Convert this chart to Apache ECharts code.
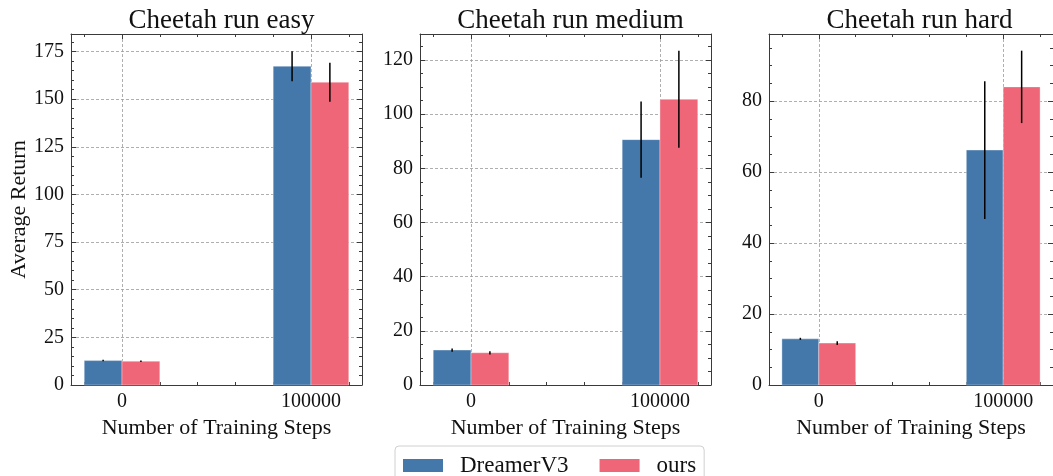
<!DOCTYPE html>
<html>
<head>
<meta charset="utf-8">
<script src="https://cdn.jsdelivr.net/npm/echarts@6/dist/echarts.min.js"></script>
<style>
html,body{margin:0;padding:0;background:#fff;}
#chart{width:1053px;height:476px;}
</style>
</head>
<body>
<div id="chart"></div>
<script>
// ---- data ----
const panelTitles = ['Cheetah run easy', 'Cheetah run medium', 'Cheetah run hard'];
const steps = [0, 100000];
const seriesNames = ['DreamerV3', 'ours'];
const dreamerMean = [[12.8, 167.3], [12.9, 90.6], [13.0, 66.2]];
const dreamerErr  = [[0.4, 7.9], [0.6, 14.1], [0.3, 19.4]];
const oursMean    = [[12.5, 158.9], [11.9, 105.5], [11.8, 84.0]];
const oursErr     = [[0.4, 10.2], [0.6, 17.9], [0.5, 10.2]];
// ---- axes / ticks ----
const xMajorTicks = [0, 100000];
const xMinorTicks = [-20000, 20000, 40000, 60000, 80000, 120000];
const yMajorTicks = [
  [0, 25, 50, 75, 100, 125, 150, 175],
  [0, 20, 40, 60, 80, 100, 120],
  [0, 20, 40, 60, 80]
];
const yMinorStep = [5, 5, 5];
const yMax = [184.2, 129.6, 98.9];
const xMin = -27000, xMax = 127000;

const BLUE = '#4477AA', RED = '#EE6677';
const FONT = 'Liberation Serif';
const AXIS_COLOR = '#3a3a3a';
const gridLeft = [71, 420, 769];
const GRID_TOP = 34, GRID_W = 291, GRID_H = 351;
const BAR_W = 20000;

function minorOf(majors, step, max) {
  const out = [];
  for (let v = step; v <= max; v += step) {
    const r = Math.round(v * 1000) / 1000;
    if (majors.indexOf(r) < 0) out.push(r);
  }
  return out;
}

const grids = [], xAxes = [], yAxes = [], series = [], titles = [];

function tickAxis(base, pos, values, len, showLine) {
  return Object.assign({}, base, {
    position: pos,
    axisLine: { show: showLine, onZero: false, lineStyle: { color: AXIS_COLOR, width: 1 } },
    axisTick: { show: true, inside: true, length: len, customValues: values, lineStyle: { color: AXIS_COLOR, width: 1 } },
    axisLabel: { show: false },
    splitLine: { show: false }
  });
}

for (let i = 0; i < 3; i++) {
  grids.push({ left: gridLeft[i], top: GRID_TOP, width: GRID_W, height: GRID_H, containLabel: false });
  titles.push({
    text: panelTitles[i],
    left: gridLeft[i] + GRID_W / 2, top: 2, textAlign: 'center',
    textStyle: { fontFamily: FONT, fontSize: 27, fontWeight: 'normal', color: '#111' }
  });
  const xb = { type: 'value', gridIndex: i, min: xMin, max: xMax };
  const yb = { type: 'value', gridIndex: i, min: 0, max: yMax[i] };
  const xi = xAxes.length, yi = yAxes.length;
  // main x (bottom)
  xAxes.push(Object.assign({}, xb, {
    position: 'bottom',
    name: 'Number of Training Steps', nameLocation: 'middle', nameGap: 22,
    nameTextStyle: { fontFamily: FONT, fontSize: 22, color: '#111', verticalAlign: 'top' },
    axisLine: { show: true, onZero: false, lineStyle: { color: AXIS_COLOR, width: 1 } },
    axisTick: { show: true, inside: true, length: 5, customValues: xMajorTicks, lineStyle: { color: AXIS_COLOR } },
    axisLabel: { show: true, customValues: xMajorTicks, margin: 7, fontFamily: FONT, fontSize: 20, color: '#111',
      formatter: v => String(v) },
    splitLine: { show: true, lineStyle: { color: '#9a9a9a', width: 0.8, type: [3, 2] } }
  }));
  xAxes.push(tickAxis(xb, 'top', xMajorTicks, 5, true));
  xAxes.push(tickAxis(xb, 'bottom', xMinorTicks, 3, false));
  xAxes.push(tickAxis(xb, 'top', xMinorTicks, 3, false));
  // main y (left)
  const yMinor = minorOf(yMajorTicks[i], yMinorStep[i], yMax[i]);
  yAxes.push(Object.assign({}, yb, {
    position: 'left',
    name: i === 0 ? 'Average Return' : '', nameLocation: 'middle', nameGap: 38, nameRotate: 90,
    nameTextStyle: { fontFamily: FONT, fontSize: 22, color: '#111' },
    axisLine: { show: true, onZero: false, lineStyle: { color: AXIS_COLOR, width: 1 } },
    axisTick: { show: true, inside: true, length: 5, customValues: yMajorTicks[i], lineStyle: { color: AXIS_COLOR } },
    axisLabel: { show: true, customValues: yMajorTicks[i], margin: 7, fontFamily: FONT, fontSize: 20, color: '#111',
      formatter: v => String(v) },
    splitLine: { show: true, lineStyle: { color: '#9a9a9a', width: 0.8, type: [3, 2] } }
  }));
  yAxes.push(tickAxis(yb, 'right', yMajorTicks[i], 5, true));
  yAxes.push(tickAxis(yb, 'left', yMinor, 3, false));
  yAxes.push(tickAxis(yb, 'right', yMinor, 3, false));

  const groups = [
    { name: seriesNames[0], color: BLUE, mean: dreamerMean[i], err: dreamerErr[i], off: -BAR_W },
    { name: seriesNames[1], color: RED, mean: oursMean[i], err: oursErr[i], off: 0 }
  ];
  groups.forEach(g => {
    const data = steps.map((s, k) => [s, g.mean[k], g.err[k]]);
    series.push({
      type: 'custom', name: g.name, xAxisIndex: xi, yAxisIndex: yi,
      itemStyle: { color: g.color },
      data: data,
      clip: false,
      renderItem: function (params, api) {
        const x = api.value(0), y = api.value(1), e = api.value(2);
        const p1 = api.coord([x + g.off, y]);
        const p2 = api.coord([x + g.off + BAR_W, 0]);
        const cx = api.coord([x + g.off + BAR_W / 2, 0])[0];
        const eTop = api.coord([x, y + e])[1];
        const eBot = api.coord([x, y - e])[1];
        return {
          type: 'group',
          children: [
            { type: 'rect', shape: { x: p1[0], y: p1[1], width: p2[0] - p1[0], height: p2[1] - p1[1] },
              style: { fill: g.color, stroke: 'rgba(255,255,255,0.35)', lineWidth: 1 } },
            { type: 'line', shape: { x1: cx, y1: eTop, x2: cx, y2: eBot },
              style: { stroke: '#000', lineWidth: 1.5 } }
          ]
        };
      },
      encode: { x: 0, y: 1 },
      z: 3
    });
  });
}

const chart = echarts.init(document.getElementById('chart'), null, { renderer: 'canvas' });
chart.setOption({
  backgroundColor: '#fff',
  animation: false,
  title: titles,
  grid: grids,
  xAxis: xAxes,
  yAxis: yAxes,
  legend: {
    data: seriesNames,
    left: 395, top: 446,
    icon: 'rect', itemWidth: 40, itemHeight: 13, itemGap: 31,
    padding: [8, 8, 8, 8],
    borderColor: '#d0d0d0', borderWidth: 1, borderRadius: 4,
    backgroundColor: '#fff',
    textStyle: { fontFamily: FONT, fontSize: 23, color: '#111', padding: [0, 0, 0, 12] }
  },
  series: series
});
</script>
</body>
</html>
